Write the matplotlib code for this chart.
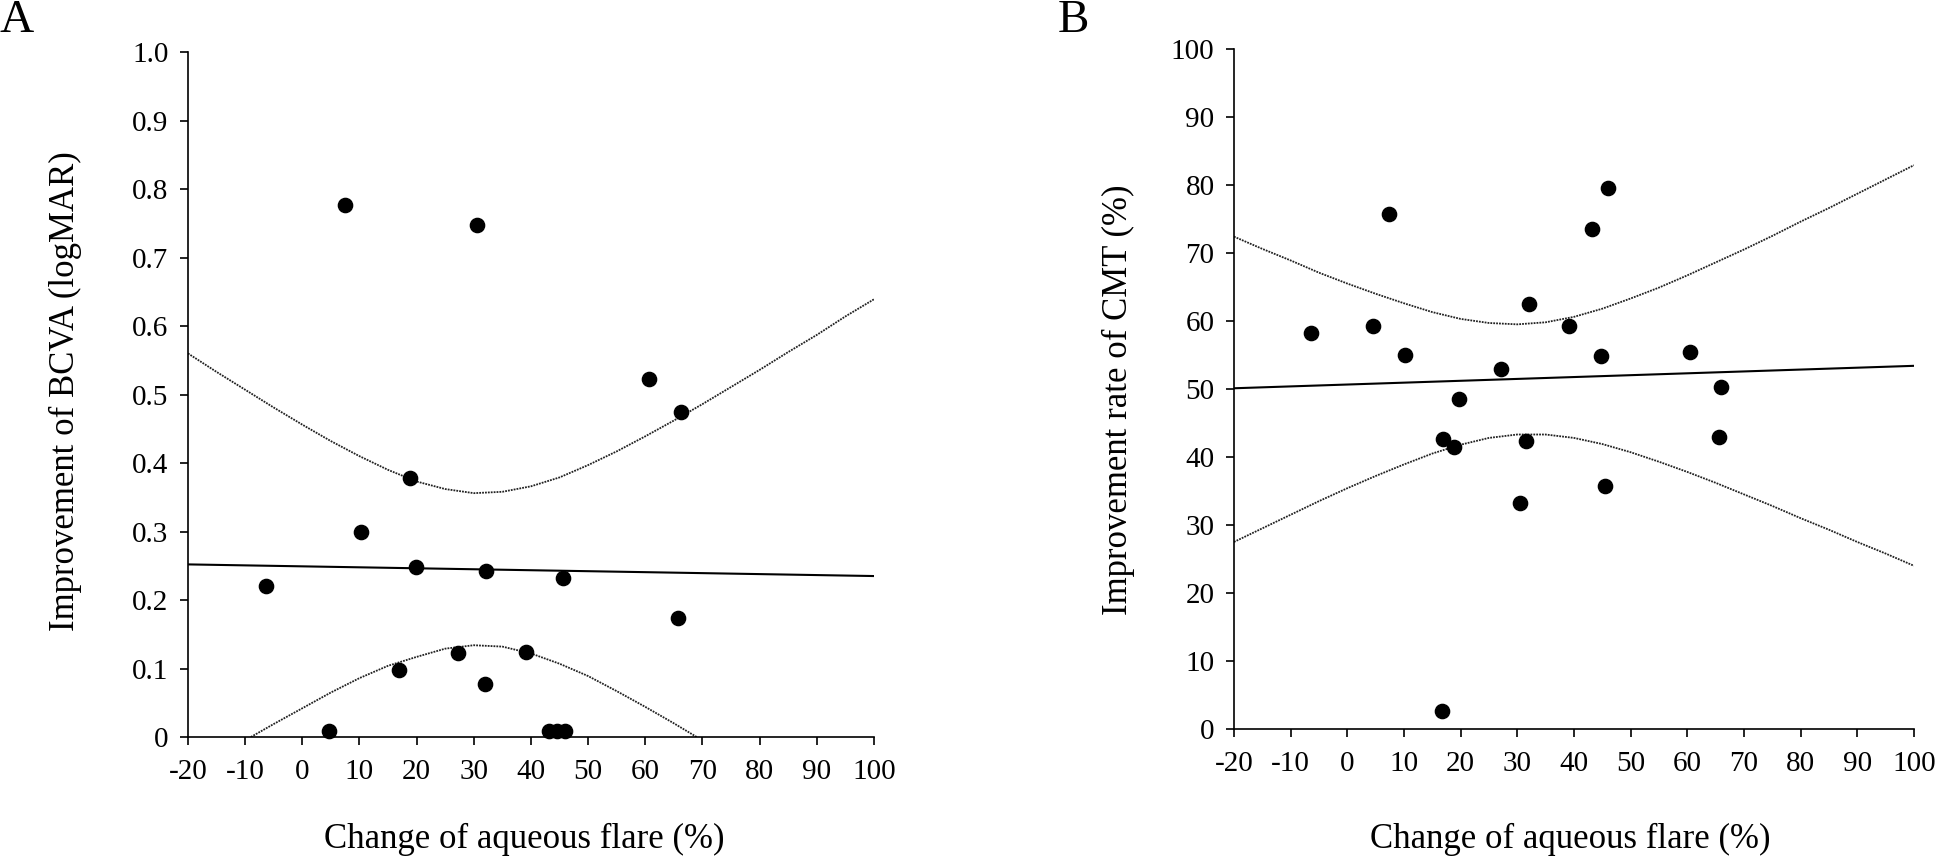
import matplotlib
matplotlib.use('Agg')
import matplotlib.pyplot as plt
import numpy as np

plt.rcParams['font.family'] = ['Liberation Serif', 'DejaVu Serif']
plt.rcParams['axes.unicode_minus'] = False

# ---- panel A: BCVA improvement vs change of aqueous flare ----
a_x = [7.4, 30.6, 60.6, 66.2, 18.8, 10.2, 19.9, 32.1, 45.6, -6.4,
       65.7, 27.2, 39.2, 17.0, 31.9, 4.6, 43.2, 44.6, 46.0]
a_y = [0.776, 0.748, 0.522, 0.475, 0.378, 0.300, 0.248, 0.242, 0.232, 0.221,
       0.174, 0.123, 0.124, 0.098, 0.077, 0.009, 0.009, 0.009, 0.009]
a_fit_x = [-20, 100]
a_fit_y = [0.252, 0.235]
a_ci_x = [-20, -15, -10, -5, 0, 5, 10, 15, 20, 25, 30, 35, 40, 45, 50,
          55, 60, 65, 70, 75, 80, 85, 90, 95, 100]
a_ci_up = [0.560, 0.533, 0.507, 0.481, 0.456, 0.432, 0.410, 0.390, 0.373,
           0.362, 0.356, 0.358, 0.366, 0.379, 0.397, 0.417, 0.439, 0.462,
           0.486, 0.511, 0.536, 0.562, 0.587, 0.614, 0.639]
a_lo_x = [-9, -5, 0, 5, 10, 15, 20, 25, 30, 35, 40, 45, 50, 55, 60, 65, 69]
a_ci_lo = [0.0, 0.019, 0.042, 0.065, 0.086, 0.104, 0.117, 0.129, 0.134,
           0.132, 0.122, 0.107, 0.089, 0.067, 0.044, 0.020, 0.0]

# ---- panel B: CMT improvement rate vs change of aqueous flare ----
b_x = [7.35, -6.4, 4.5, 10.1, 32.0, 39.1, 27.2, 19.8, 16.9, 18.8,
       31.6, 30.5, 46.0, 43.2, 44.7, 60.5, 66.0, 65.6, 45.5, 16.7]
b_y = [75.8, 58.2, 59.3, 55.0, 62.5, 59.3, 52.9, 48.5, 42.7, 41.5,
       42.4, 33.2, 79.6, 73.5, 54.8, 55.5, 50.3, 43.0, 35.7, 2.7]
b_fit_x = [-20, 100]
b_fit_y = [50.1, 53.4]
b_ci_x = a_ci_x
b_ci_up = [72.4, 70.6, 68.9, 67.1, 65.5, 64.0, 62.6, 61.3, 60.3, 59.7, 59.5,
           59.8, 60.6, 61.8, 63.3, 64.9, 66.7, 68.6, 70.5, 72.5, 74.6, 76.6,
           78.7, 80.8, 82.9]
b_ci_lo = [27.5, 29.5, 31.5, 33.5, 35.4, 37.2, 38.9, 40.5, 41.8, 42.8, 43.3,
           43.3, 42.8, 41.9, 40.7, 39.3, 37.8, 36.2, 34.5, 32.8, 31.0, 29.3,
           27.5, 25.8, 24.0]

fig = plt.figure(figsize=(19.46, 8.57), dpi=100)
axA = fig.add_axes([0.0966, 0.140, 0.3525, 0.7993])
axB = fig.add_axes([0.6341, 0.1494, 0.3494, 0.7935])

ci_style = dict(color='#222222', linewidth=1.3, linestyle=(0, (1, 0.6)))


def style_axes(ax):
    for side in ['top', 'right']:
        ax.spines[side].set_visible(False)
    for side in ['left', 'bottom']:
        ax.spines[side].set_linewidth(1.2)
    ax.tick_params(direction='out', length=6, width=1.2, labelsize=21)
    ax.tick_params(axis='x', pad=10)
    ax.tick_params(axis='y', pad=8)
    ax.set_xlim(-20, 100)
    ax.set_xticks(np.arange(-20, 101, 10))


# panel A
axA.plot(a_ci_x, a_ci_up, **ci_style)
axA.plot(a_lo_x, a_ci_lo, **ci_style)
axA.plot(a_fit_x, a_fit_y, color='black', linewidth=1.5)
axA.scatter(a_x, a_y, s=105, color='black', zorder=3, clip_on=False)
style_axes(axA)
axA.set_ylim(0, 1.0)
axA.set_yticks(np.arange(0, 1.01, 0.1))
axA.set_yticklabels(['0'] + [f'{v:.1f}' for v in np.arange(0.1, 1.01, 0.1)])

# panel B
axB.plot(b_ci_x, b_ci_up, **ci_style)
axB.plot(b_ci_x, b_ci_lo, **ci_style)
axB.plot(b_fit_x, b_fit_y, color='black', linewidth=1.5)
axB.scatter(b_x, b_y, s=105, color='black', zorder=3, clip_on=False)
style_axes(axB)
axB.set_ylim(0, 100)
axB.set_yticks(np.arange(0, 101, 10))

# axis labels
fig.text(65 / 1946, 1 - 391 / 857, 'Improvement of BCVA (logMAR)', rotation=90,
         ha='center', va='center', fontsize=25)
fig.text(1118 / 1946, 1 - 400 / 857, 'Improvement rate of CMT (%)', rotation=90,
         ha='center', va='center', fontsize=25)
fig.text(524 / 1946, 1 - 848 / 857, 'Change of aqueous flare (%)',
         ha='center', va='baseline', fontsize=25)
fig.text(1570 / 1946, 1 - 848 / 857, 'Change of aqueous flare (%)',
         ha='center', va='baseline', fontsize=25)

# panel letters
fig.text(0.0, 1.0, 'A', ha='left', va='top', fontsize=34)
fig.text(1058 / 1946, 1.0, 'B', ha='left', va='top', fontsize=34)

plt.savefig('out.png', dpi=100)
plt.close()
